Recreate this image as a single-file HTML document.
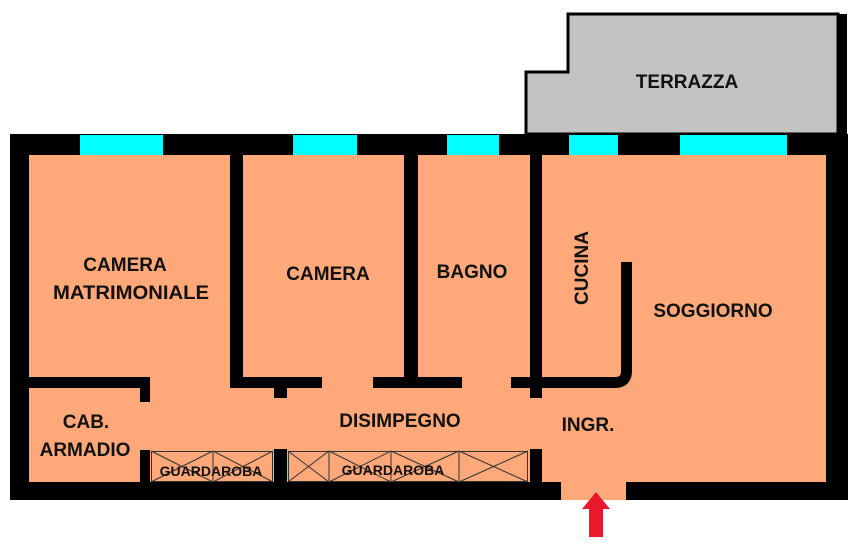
<!DOCTYPE html>
<html><head><style>
body{margin:0;background:#fff;}
svg{display:block}
text{font-family:"Liberation Sans",sans-serif;font-weight:bold;fill:#111;}
</style></head><body>
<svg width="864" height="553" viewBox="0 0 864 553">
<!-- terrace -->
<path d="M526,134 L526,72 L568,72 L568,14 L838,14 L838,134 Z" fill="#c3c3c3" stroke="#000" stroke-width="3"/>
<rect x="837" y="14" width="10" height="122" fill="#000"/>
<!-- outer -->
<rect x="10" y="134" width="838" height="366" fill="#000"/>
<rect x="29" y="155" width="797" height="327" fill="#ffa87a"/>
<!-- entrance gap -->
<rect x="561" y="480" width="65" height="20" fill="#ffa87a"/>
<!-- windows -->
<g fill="#00ffff">
<rect x="80" y="135" width="83" height="20"/>
<rect x="293" y="135" width="64" height="20"/>
<rect x="447" y="135" width="52" height="20"/>
<rect x="569" y="135" width="49" height="20"/>
<rect x="680" y="135" width="107" height="20"/>
</g>
<!-- interior walls -->
<g fill="#000">
<rect x="230" y="155" width="13" height="233"/>
<rect x="404" y="155" width="14" height="233"/>
<rect x="530" y="155" width="12" height="243"/>
<rect x="29" y="377" width="121" height="11"/>
<rect x="140" y="377" width="10" height="25"/>
<rect x="230" y="377" width="92" height="11"/>
<rect x="274" y="377" width="13" height="21"/>
<rect x="373" y="377" width="89" height="11"/>
<rect x="511" y="377" width="102" height="11"/>
<rect x="140" y="450" width="10" height="32"/>
<rect x="274" y="449" width="13" height="33"/>
<rect x="530" y="449" width="12" height="33"/>
</g>
<path d="M600,382.5 L615,382.5 Q626.5,382.5 626.5,371 L626.5,262" fill="none" stroke="#000" stroke-width="11"/>
<!-- wardrobes -->
<g fill="none" stroke="#333" stroke-width="1">
<rect x="151.5" y="451.5" width="121" height="30"/>
<line x1="213" y1="451" x2="213" y2="482"/>
<path d="M151,451 L213,482 M151,482 L213,451 M213,451 L273,482 M213,482 L273,451"/>
<rect x="288.5" y="451.5" width="239" height="30"/>
<line x1="329" y1="451" x2="329" y2="482"/>
<line x1="391" y1="451" x2="391" y2="482"/>
<line x1="459" y1="451" x2="459" y2="482"/>
<path d="M288,451 L329,482 M288,482 L329,451 M329,451 L391,482 M329,482 L391,451 M391,451 L459,482 M391,482 L459,451 M459,451 L528,482 M459,482 L528,451"/>
</g>
<!-- arrow -->
<path d="M596,492 L610,509 L603,509 L603,537 L589,537 L589,509 L582,509 Z" fill="#e8192c"/>
<!-- labels -->
<g font-size="19" text-anchor="middle">
<text x="687" y="88">TERRAZZA</text>
<text x="125" y="271">CAMERA</text>
<text x="131" y="299" textLength="156" lengthAdjust="spacingAndGlyphs">MATRIMONIALE</text>
<text x="328" y="280">CAMERA</text>
<text x="472" y="278">BAGNO</text>
<text x="713" y="317">SOGGIORNO</text>
<text x="400" y="427">DISIMPEGNO</text>
<text x="588" y="431">INGR.</text>
<text x="86" y="428">CAB.</text>
<text x="85" y="456">ARMADIO</text>
<text transform="translate(588,268) rotate(-90)">CUCINA</text>
</g>
<g font-size="14" text-anchor="middle">
<text x="211" y="476">GUARDAROBA</text>
<text x="393" y="475">GUARDAROBA</text>
</g>
</svg>
</body></html>
